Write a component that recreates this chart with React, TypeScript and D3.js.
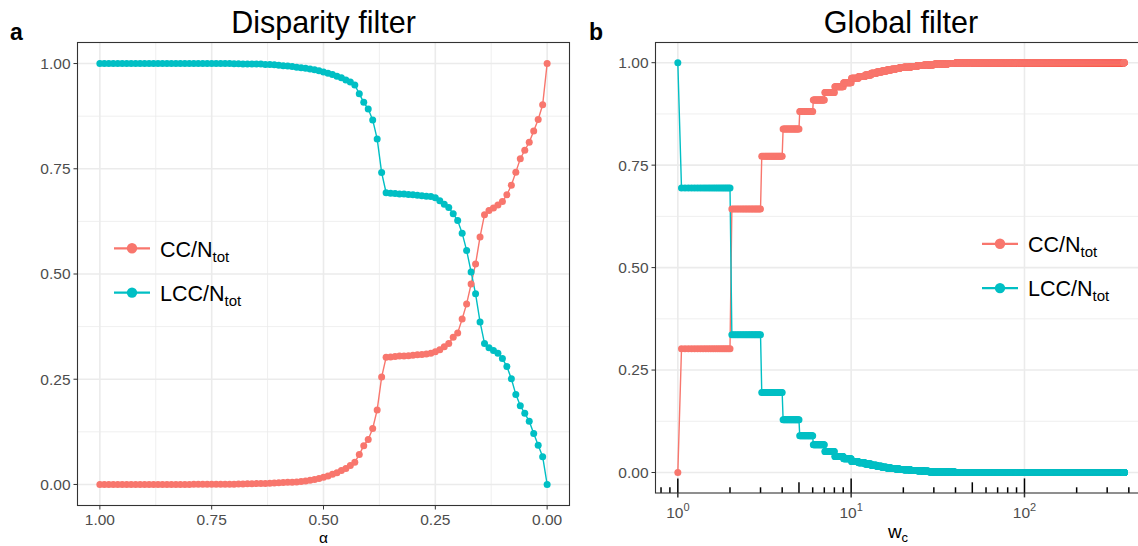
import React from "react";
import * as d3 from "d3";

// ---- panel a: disparity filter, alpha from 1.00 down to 0.00 (step 0.01)
const alphaGrid = d3.range(0, 101).map((i) => (100 - i) / 100);

const ccDisparity = [
  // 1.00 .. 0.80
  0, 0, 0, 0, 0, 0, 0, 0, 0, 0, 0, 0, 0, 0, 0, 0, 0, 0, 0, 0, 0,
  // 0.79 .. 0.70
  0.0005, 0.0005, 0.0005, 0.0005, 0.0005, 0.0005, 0.0005, 0.0005, 0.0005, 0.0005,
  // 0.69 .. 0.65
  0.001, 0.001, 0.0015, 0.0015, 0.002,
  // 0.64 .. 0.51
  0.002, 0.0025, 0.003, 0.0035, 0.004, 0.0045, 0.005, 0.0055, 0.006, 0.007,
  0.008, 0.01, 0.012, 0.014,
  // 0.50 .. 0.41
  0.017, 0.02, 0.024, 0.028, 0.033, 0.038, 0.045, 0.053, 0.071, 0.092,
  // 0.40 .. 0.31
  0.107, 0.133, 0.177, 0.255, 0.302, 0.303, 0.304, 0.305, 0.305, 0.306,
  // 0.30 .. 0.21
  0.307, 0.308, 0.309, 0.31, 0.312, 0.315, 0.32, 0.327, 0.335, 0.35,
  // 0.20 .. 0.11
  0.36, 0.393, 0.429, 0.476, 0.524, 0.588, 0.641, 0.651, 0.657, 0.664,
  // 0.10 .. 0.01
  0.672, 0.688, 0.711, 0.742, 0.774, 0.794, 0.813, 0.84, 0.867, 0.902,
  // 0.00
  1.0,
];

const lccDisparity = [
  // 1.00 .. 0.71
  1, 1, 1, 1, 1, 1, 1, 1, 1, 1, 1, 1, 1, 1, 1, 1, 1, 1, 1, 1, 1, 1, 1, 1, 1,
  1, 1, 1, 1, 1,
  // 0.70 .. 0.66
  0.9995, 0.9995, 0.999, 0.999, 0.999,
  // 0.65 .. 0.51
  0.999, 0.999, 0.998, 0.998, 0.997, 0.996, 0.995, 0.994, 0.993, 0.991, 0.99,
  0.989, 0.987, 0.985, 0.983,
  // 0.50 .. 0.41
  0.98, 0.977, 0.974, 0.97, 0.966, 0.961, 0.956, 0.949, 0.928, 0.908,
  // 0.40 .. 0.31
  0.892, 0.866, 0.821, 0.741, 0.693, 0.692, 0.691, 0.69, 0.69, 0.689,
  // 0.30 .. 0.21
  0.688, 0.687, 0.686, 0.685, 0.684, 0.681, 0.674, 0.666, 0.658, 0.643,
  // 0.20 .. 0.11
  0.627, 0.597, 0.556, 0.505, 0.453, 0.386, 0.335, 0.325, 0.318, 0.312,
  // 0.10 .. 0.01
  0.299, 0.28, 0.251, 0.214, 0.187, 0.169, 0.15, 0.121, 0.093, 0.066,
  // 0.00
  0,
];

// ---- panel b: global filter, levels hold on (previous edge, edge]
const wcEdges = [
  1, 2, 3, 4, 5, 6, 7, 8, 9, 10, 11, 12, 13, 14, 15, 16, 17, 18, 19, 20, 22,
  24, 26, 28, 30, 33, 36, 40, 45, 50, 376,
];
const ccGlobal = [
  0, 0.302, 0.643, 0.772, 0.838, 0.881, 0.909, 0.927, 0.941, 0.951, 0.962,
  0.966, 0.97, 0.974, 0.977, 0.98, 0.982, 0.984, 0.986, 0.988, 0.989, 0.991,
  0.993, 0.994, 0.995, 0.996, 0.997, 0.998, 0.999, 0.9995, 1,
];
const lccGlobal = [
  1, 0.694, 0.336, 0.195, 0.1285, 0.0895, 0.0676, 0.051, 0.039, 0.0334, 0.027,
  0.024, 0.021, 0.018, 0.015, 0.013, 0.011, 0.0095, 0.0085, 0.0075, 0.0065,
  0.005, 0.004, 0.003, 0.002, 0.0015, 0.001, 0.0005, 0, 0, 0,
];
// threshold sweep 1 .. 376 in steps of 0.05
const wcGrid = d3.range(0, 7501).map((i) => Math.round((1 + i / 20) * 100) / 100);

const yTicks = [0, 0.25, 0.5, 0.75, 1];
const yMinor = [0.125, 0.375, 0.625, 0.875];
const alphaTicks = [1, 0.75, 0.5, 0.25, 0];
const alphaMinor = [0.875, 0.625, 0.375, 0.125];
const wcTicks = [1, 10, 100];
const wcTickExp = ["0", "1", "2"];
const logTickMults = [1, 2, 3, 4, 5, 6, 7, 8, 9];
const logTickDecades = [0.1, 1, 10, 100];

const FONT = "'Liberation Sans', Arial, Helvetica, sans-serif";
const RED = "#F8766D";
const CYAN = "#00BFC4";
const GRID = "#EBEBEB";
const DARK = "#333333";
const LABEL = "#4D4D4D";

const pa = { x0: 77.5, x1: 569.5, y0: 42.5, y1: 505.5 };
const pb = { x0: 655.5, x1: 1146.5, y0: 42.5, y1: 493 };

const xa = d3.scaleLinear().domain([1.05, -0.05]).range([pa.x0, pa.x1]);
const ya = d3.scaleLinear().domain([-0.05, 1.05]).range([pa.y1, pa.y0]);
const xb = d3
  .scaleLog()
  .domain([10 ** -0.1288, 10 ** 2.704])
  .range([pb.x0, pb.x1]);
const yb = d3.scaleLinear().domain([-0.05, 1.05]).range([pb.y1, pb.y0 - 0.3]);

const levelAt = (levels: number[], wc: number) =>
  levels[d3.bisectLeft(wcEdges, wc - 1e-9)];

const ccB = wcGrid.map((w) => [w, levelAt(ccGlobal, w)] as [number, number]);
const lccB = wcGrid.map((w) => [w, levelAt(lccGlobal, w)] as [number, number]);
const ccA = alphaGrid.map((a, i) => [a, ccDisparity[i]] as [number, number]);
const lccA = alphaGrid.map((a, i) => [a, lccDisparity[i]] as [number, number]);

const logTicks = logTickDecades
  .flatMap((d) => logTickMults.map((m) => ({ v: d * m, m })))
  .filter((t) => xb(t.v) >= pb.x0 && xb(t.v) <= 1138);

function YAxis({ y, p }: { y: any; p: any }) {
  return (
    <g>
      {yTicks.map((t) => (
        <g key={t}>
          <line x1={p.x0 - 4} x2={p.x0} y1={y(t)} y2={y(t)} stroke={DARK} strokeWidth={1} />
          <text
            x={p.x0 - 7}
            y={y(t)}
            dy="0.35em"
            textAnchor="end"
            fontSize={15.5}
            fill={LABEL}
          >
            {d3.format(".2f")(t)}
          </text>
        </g>
      ))}
    </g>
  );
}

function HGrid({ y, p }: { y: any; p: any }) {
  return (
    <g>
      {yMinor.map((t) => (
        <line key={"m" + t} x1={p.x0} x2={p.x1} y1={y(t)} y2={y(t)} stroke={GRID} strokeWidth={0.8} />
      ))}
      {yTicks.map((t) => (
        <line key={"M" + t} x1={p.x0} x2={p.x1} y1={y(t)} y2={y(t)} stroke={GRID} strokeWidth={1.6} />
      ))}
    </g>
  );
}

function Series({
  data,
  x,
  y,
  color,
}: {
  data: [number, number][];
  x: any;
  y: any;
  color: string;
}) {
  const line = d3
    .line<[number, number]>()
    .x((d) => x(d[0]))
    .y((d) => y(d[1]));
  return <path d={line(data) || ""} fill="none" stroke={color} strokeWidth={1.4} />;
}

function Points({
  data,
  x,
  y,
  color,
}: {
  data: [number, number][];
  x: any;
  y: any;
  color: string;
}) {
  return (
    <g fill={color}>
      {data.map((d, i) => (
        <circle key={i} cx={x(d[0])} cy={y(d[1])} r={3.5} />
      ))}
    </g>
  );
}

function Legend({ x, y }: { x: number; y: number }) {
  const items = [
    { label: "CC/N", color: RED, dy: 0 },
    { label: "LCC/N", color: CYAN, dy: 44.3 },
  ];
  return (
    <g transform={`translate(${x},${y})`}>
      {items.map((it) => (
        <g key={it.label} transform={`translate(0,${it.dy})`}>
          <line x1={0} x2={36} y1={0} y2={0} stroke={it.color} strokeWidth={2.3} />
          <circle cx={18} cy={0} r={5.2} fill={it.color} />
          <text x={46} y={8.3} fontSize={21.5} fill="#000">
            {it.label}
            <tspan fontSize={15} dy={5}>
              tot
            </tspan>
          </text>
        </g>
      ))}
    </g>
  );
}

export default function App() {
  return (
    <div style={{ position: "absolute", left: 0, top: 0 }}>
      <svg width={1138} height={546} fontFamily={FONT} style={{ display: "block", background: "#fff" }}>
        <rect x={0} y={0} width={1138} height={546} fill="#fff" />

        {/* panel a */}
        <text x={10} y={40} fontSize={23} fontWeight="bold">
          a
        </text>
        <text x={(pa.x0 + pa.x1) / 2} y={33} fontSize={30.5} textAnchor="middle">
          Disparity filter
        </text>
        <HGrid y={ya} p={pa} />
        {alphaMinor.map((t) => (
          <line key={"am" + t} x1={xa(t)} x2={xa(t)} y1={pa.y0} y2={pa.y1} stroke={GRID} strokeWidth={0.8} />
        ))}
        {alphaTicks.map((t) => (
          <line key={"aM" + t} x1={xa(t)} x2={xa(t)} y1={pa.y0} y2={pa.y1} stroke={GRID} strokeWidth={1.6} />
        ))}
        <Series data={ccA} x={xa} y={ya} color={RED} />
        <Series data={lccA} x={xa} y={ya} color={CYAN} />
        <Points data={ccA} x={xa} y={ya} color={RED} />
        <Points data={lccA} x={xa} y={ya} color={CYAN} />
        <rect
          x={pa.x0}
          y={pa.y0}
          width={pa.x1 - pa.x0}
          height={pa.y1 - pa.y0}
          fill="none"
          stroke={DARK}
          strokeWidth={1.1}
        />
        <YAxis y={ya} p={pa} />
        {alphaTicks.map((t) => (
          <g key={"at" + t}>
            <line x1={xa(t)} x2={xa(t)} y1={pa.y1} y2={pa.y1 + 4} stroke={DARK} strokeWidth={1} />
            <text x={xa(t)} y={525} textAnchor="middle" fontSize={15.5} fill={LABEL}>
              {d3.format(".2f")(t)}
            </text>
          </g>
        ))}
        <text x={(pa.x0 + pa.x1) / 2} y={542.5} textAnchor="middle" fontSize={15.5}>
          α
        </text>
        <Legend x={114} y={248.3} />

        {/* panel b */}
        <text x={589} y={40} fontSize={23} fontWeight="bold">
          b
        </text>
        <text x={(pb.x0 + pb.x1) / 2} y={33} fontSize={30.5} textAnchor="middle">
          Global filter
        </text>
        <HGrid y={yb} p={pb} />
        {wcTicks.map((t) => (
          <line key={"wM" + t} x1={xb(t)} x2={xb(t)} y1={pb.y0} y2={pb.y1} stroke={GRID} strokeWidth={1.6} />
        ))}
        <Series data={ccB} x={xb} y={yb} color={RED} />
        <Series data={lccB} x={xb} y={yb} color={CYAN} />
        <Points data={ccB} x={xb} y={yb} color={RED} />
        <Points data={lccB} x={xb} y={yb} color={CYAN} />
        {logTicks.map((t, i) => (
          <line
            key={"lt" + i}
            x1={xb(t.v)}
            x2={xb(t.v)}
            y1={pb.y1}
            y2={pb.y1 - (t.m === 1 ? 14.6 : t.m === 5 ? 10.7 : 5.7)}
            stroke="#000"
            strokeWidth={1.5}
          />
        ))}
        <rect
          x={pb.x0}
          y={pb.y0}
          width={pb.x1 - pb.x0}
          height={pb.y1 - pb.y0}
          fill="none"
          stroke={DARK}
          strokeWidth={1.1}
        />
        <YAxis y={yb} p={pb} />
        {wcTicks.map((t, i) => (
          <g key={"wt" + t}>
            <line x1={xb(t)} x2={xb(t)} y1={pb.y1} y2={pb.y1 + 4.4} stroke={DARK} strokeWidth={1.5} />
            <text x={xb(t)} y={518.3} textAnchor="middle" fontSize={15.5} fill={LABEL}>
              10
              <tspan fontSize={11} dy={-7}>
                {wcTickExp[i]}
              </tspan>
            </text>
          </g>
        ))}
        <text x={(pb.x0 + pb.x1) / 2 - 3} y={538} textAnchor="middle" fontSize={19}>
          w
          <tspan fontSize={13} dy={4}>
            c
          </tspan>
        </text>
        <Legend x={982} y={243.8} />
      </svg>
    </div>
  );
}
